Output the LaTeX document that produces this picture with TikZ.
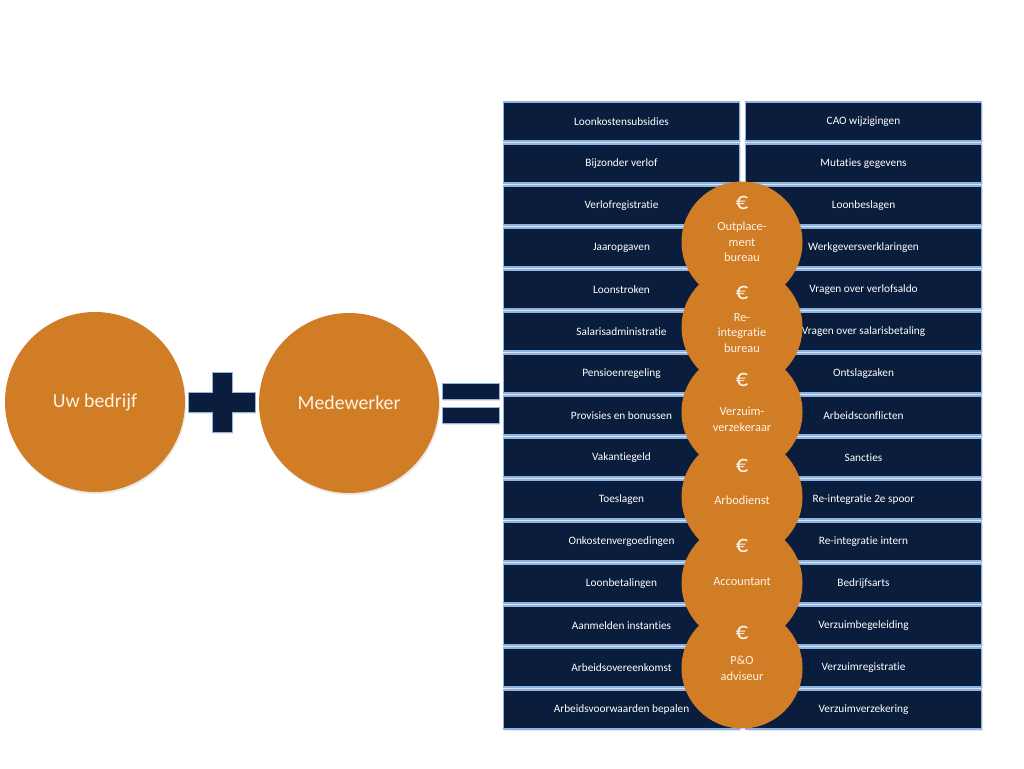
\documentclass[tikz,border=0pt]{standalone}
\usepackage{fontspec}
\setmainfont{Carlito}[Ligatures=NoCommon]
\usetikzlibrary{shadows}
\definecolor{navy}{HTML}{0A1D3C}
\definecolor{edgeblue}{HTML}{8DB3E2}
\definecolor{orng}{HTML}{D17D25}
\definecolor{cream}{HTML}{FDF3E6}
\begin{document}
\begin{tikzpicture}[x=1pt,y=-1pt,
  cell/.style={draw=edgeblue, line width=1.2pt, fill=navy, minimum width=236pt, minimum height=39pt,
    inner sep=0pt, text=white, font=\fontsize{11.3}{13}\selectfont,
    drop shadow={opacity=0.22, shadow xshift=1pt, shadow yshift=-2pt}},
  bigc/.style={circle, fill=orng, minimum size=180pt, inner sep=0pt, text=cream,
    font=\fontsize{19.8}{23}\selectfont,
    drop shadow={opacity=0.18, shadow xshift=1pt, shadow yshift=-2pt}},
  smallc/.style={circle, fill=orng, minimum size=121pt, inner sep=0pt},
  euro/.style={text=cream, font=\fontsize{25}{28}\selectfont, inner sep=0pt},
  clabel/.style={text=cream, font=\fontsize{12.4}{15.5}\selectfont, align=center, inner sep=0pt},
  bar/.style={draw=edgeblue, line width=0.6pt, fill=navy,
    drop shadow={opacity=0.2, shadow xshift=1pt, shadow yshift=-1.5pt}}
]
\useasboundingbox[fill=white] (0,0) rectangle (1024,768);

% grid of tasks
\foreach \l/\r [count=\i from 0] in {
  Loonkostensubsidies/CAO wijzigingen,
  Bijzonder verlof/Mutaties gegevens,
  Verlofregistratie/Loonbeslagen,
  Jaaropgaven/Werkgeversverklaringen,
  Loonstroken/Vragen over verlofsaldo,
  Salarisadministratie/Vragen over salarisbetaling,
  Pensioenregeling/Ontslagzaken,
  Provisies en bonussen/Arbeidsconflicten,
  Vakantiegeld/Sancties,
  Toeslagen/Re-integratie 2e spoor,
  Onkostenvergoedingen/Re-integratie intern,
  Loonbetalingen/Bedrijfsarts,
  Aanmelden instanties/Verzuimbegeleiding,
  Arbeidsovereenkomst/Verzuimregistratie,
  Arbeidsvoorwaarden bepalen/Verzuimverzekering}
{
  \node[cell] (L\i) at (621.5,{121.5+42*\i}) {\l};
  \node[cell] (R\i) at (863.5,{121.5+42*\i}) {\r};
}

% plus sign
\path[bar] (212,372) -- (232,372) -- (232,392) -- (255,392) -- (255,412) -- (232,412)
  -- (232,432) -- (212,432) -- (212,412) -- (188,412) -- (188,392) -- (212,392) -- cycle;
% equals sign
\path[bar] (442,383) rectangle (499,399);
\path[bar] (442,407) rectangle (499,423);

% big circles
\node[bigc] (uw) at (95,402) {Uw bedrijf};
\node[bigc] (mw) at (349,403) {Medewerker};

% small circles
\node[smallc] (c1) at (742,242) {};
\node[smallc] (c2) at (742,327) {};
\node[smallc] (c3) at (742,412) {};
\node[smallc] (c4) at (742,497) {};
\node[smallc] (c5) at (742,583) {};
\node[smallc] (c6) at (742,668) {};

\node[euro] (e1) at (742,203) {€};
\node[euro] (e2) at (742,293) {€};
\node[euro] (e3) at (742,380) {€};
\node[euro] (e4) at (742,466) {€};
\node[euro] (e5) at (742,546) {€};
\node[euro] (e6) at (742,633) {€};

\node[clabel] (t1) at (742,242) {Outplace-\\ment\\bureau};
\node[clabel] (t2) at (742,333) {Re-\\integratie\\bureau};
\node[clabel] (t3) at (742,419.5) {Verzuim-\\verzekeraar};
\node[clabel] (t4) at (742,500) {Arbodienst};
\node[clabel] (t5) at (742,582) {Accountant};
\node[clabel] (t6) at (742,668.5) {P\&O\\adviseur};
\end{tikzpicture}
\end{document}
